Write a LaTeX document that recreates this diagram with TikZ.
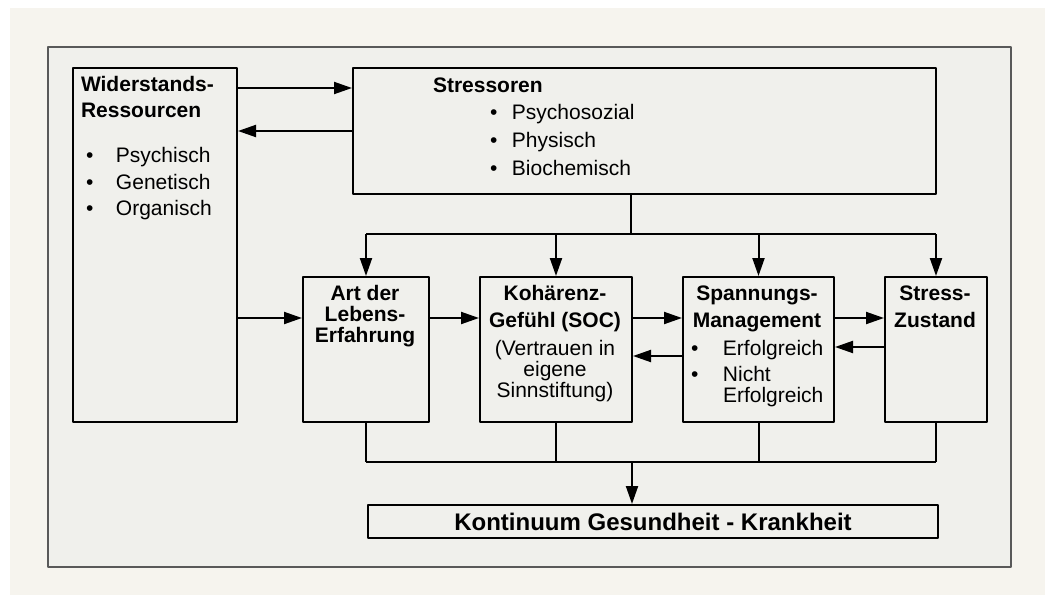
\documentclass[tikz,border=0pt]{standalone}
\usepackage{fontspec}
\setmainfont{Liberation Sans}
\usetikzlibrary{arrows.meta}
\definecolor{paper}{HTML}{F6F4EE}
\definecolor{sheet}{HTML}{F0F0EC}
\tikzset{
	box/.style={draw,line width=1pt,inner sep=0,anchor=north west},
	txt/.style={inner sep=0,font=\fontsize{10.5}{10.5}\selectfont},
	arr/.style={-{Triangle[length=9pt,width=6pt]}},
}
\newcommand{\bul}[1]{\makebox[#1][l]{\textbullet}}
\begin{document}
\begin{tikzpicture}[x=0.5pt,y=-0.5pt,line width=1pt,line join=round]
	\useasboundingbox (0,0) rectangle (1045,595);
	\fill[white] (0,0) rectangle (1045,595);
	\fill[paper] (10,8) rectangle (1045,595);
	\draw[black!65,line width=0.7pt,fill=sheet] (48,47) rectangle (1011,567);
	% boxes
	\node[box,minimum width=82pt,minimum height=177pt] (wid) at (72,67) {};
	\node[box,minimum width=291.5pt,minimum height=63pt] (str) at (352,67) {};
	\node[box,minimum width=63pt,minimum height=72.5pt] (art) at (302,276) {};
	\node[box,minimum width=76pt,minimum height=72.5pt] (koh) at (479,276) {};
	\node[box,minimum width=75.5pt,minimum height=72.5pt] (spa) at (682,276) {};
	\node[box,minimum width=51pt,minimum height=72.5pt] (zus) at (884,276) {};
	\node[box,minimum width=285pt,minimum height=16.5pt,font=\fontsize{12}{12}\selectfont\bfseries] (kont) at (367,504) {Kontinuum Gesundheit - Krankheit};
	% texts
	\node[txt,anchor=north west,align=left,font=\fontsize{10.5}{13}\selectfont\bfseries] (widT) at (80,75) {Widerstands-\\Ressourcen};
	\node[txt,anchor=north west,align=left,font=\fontsize{10.5}{13.25}\selectfont] (widL) at (85,146.5)
		{\bul{15pt}Psychisch\\\bul{15pt}Genetisch\\\bul{15pt}Organisch};
	\node[txt,anchor=north west,font=\fontsize{10.5}{10.5}\selectfont\bfseries] (strT) at (432,76.5) {Stressoren};
	\node[txt,anchor=north west,align=left,font=\fontsize{10.5}{14}\selectfont] (strL) at (489,103.5)
		{\bul{11pt}Psychosozial\\\bul{11pt}Physisch\\\bul{11pt}Biochemisch};
	\node[txt,anchor=north,align=center,font=\fontsize{10.5}{10.5}\selectfont\bfseries] (artT) at (365,284.5) {Art der\\Lebens-\\Erfahrung};
	\node[txt,anchor=north,align=center] (kohT) at (555,284.5)
		{\textbf{Kohärenz-}\\[3pt]\textbf{Gefühl (SOC)}\\[3.5pt](Vertrauen in\\eigene\\Sinnstiftung)};
	\node[txt,anchor=north,align=center,font=\fontsize{10.5}{10.5}\selectfont\bfseries] (spaT) at (757,284.5) {Spannungs-\\[3pt]Management};
	\node[txt,anchor=north west,align=left] (spaL) at (690,339.5)
		{\bul{16pt}Erfolgreich\\[2.5pt]\bul{16pt}Nicht\\\hspace*{16pt}Erfolgreich};
	\node[txt,anchor=north,align=center,font=\fontsize{10.5}{10.5}\selectfont\bfseries] (zusT) at (935,284.5) {Stress-\\[3pt]Zustand};
	% arrows
	\draw[arr] (wid.east |- 0,88) -- (str.west |- 0,88);
	\draw[arr] (str.west |- 0,131) -- (wid.east |- 0,131);
	\draw[arr] (wid.east |- 0,318) -- (art.west |- 0,318);
	\draw[arr] (art.east |- 0,318) -- (koh.west |- 0,318);
	\draw[arr] (koh.east |- 0,318) -- (spa.west |- 0,318);
	\draw[arr] (spa.west |- 0,356) -- (koh.east |- 0,356);
	\draw[arr] (spa.east |- 0,318) -- (zus.west |- 0,318);
	\draw[arr] (zus.west |- 0,347) -- (spa.east |- 0,347);
	\coordinate (top) at (631,234);
	\draw (str.south -| top) -- (top);
	\draw (art.north |- top) -- (zus.north |- top);
	\foreach \n in {art,koh,spa,zus}
		\draw[arr] (\n.north |- top) -- (\n.north);
	\coordinate (bot) at (632,462);
	\foreach \n in {art,koh,spa,zus}
		\draw (\n.south) -- (\n.south |- bot);
	\draw (art.south |- bot) -- (zus.south |- bot);
	\draw[arr] (bot) -- (kont.north -| bot);
\end{tikzpicture}
\end{document}
